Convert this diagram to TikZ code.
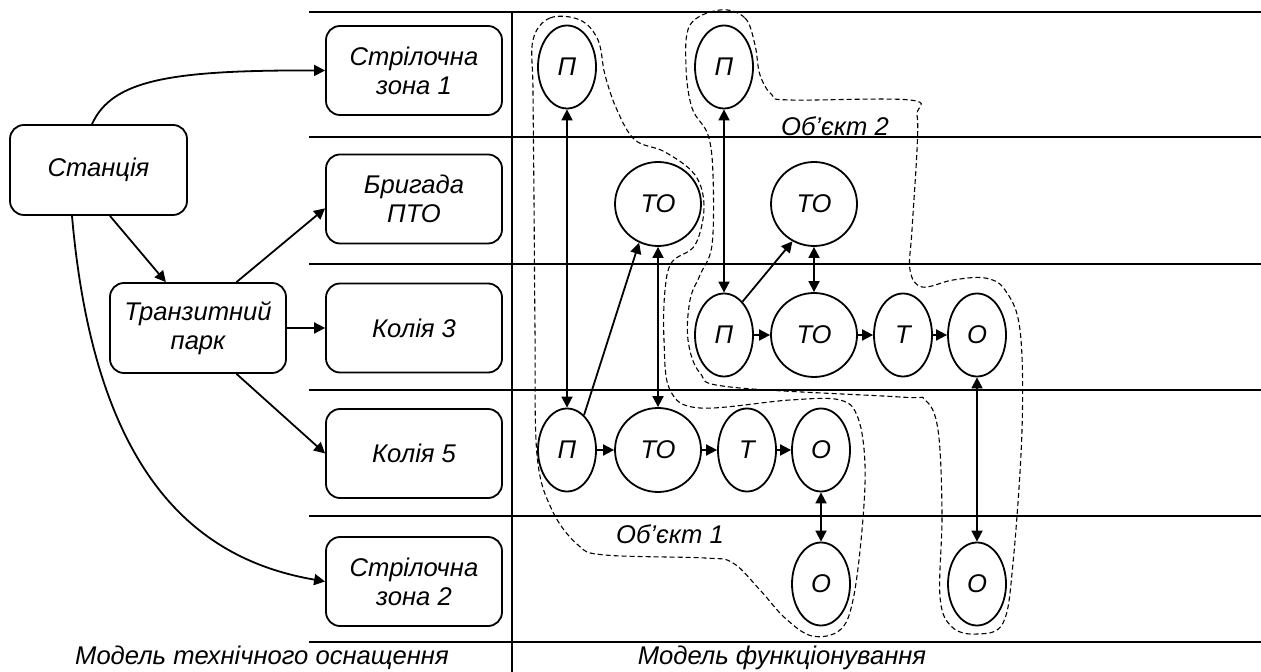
\documentclass[tikz,border=0pt]{standalone}
\usepackage{fontspec}
\setmainfont{Liberation Sans}
\usetikzlibrary{shapes.geometric,arrows.meta}

\tikzset{
  unit/.style={draw,rounded corners=7pt,minimum width=88pt,minimum height=44.5pt,align=center,line width=0.9pt},
  state/.style={draw,ellipse,minimum width=29pt,minimum height=41.5pt,inner sep=0pt,line width=0.9pt},
  wide/.style={state,minimum width=43pt,minimum height=42pt},
  link/.style={-{Triangle[length=5.5pt,width=5.5pt]},line width=0.9pt},
  both/.style={{Triangle[length=5.5pt,width=5.5pt]}-{Triangle[length=5.5pt,width=5.5pt]},line width=0.9pt},
  zone/.style={dash pattern=on 2.5pt off 1.5pt,line width=0.55pt},
}

\begin{document}
\begin{tikzpicture}[x=0.5pt,y=-0.5pt,every node/.style={font=\itshape\fontsize{12.8}{14.5}\selectfont}]
\useasboundingbox (0,0) rectangle (1261,672);
% grid
\foreach \y in {12,137,264,390,516}
  \draw [line width=1.1pt] (309,\y) -- (1261,\y);
\draw [line width=0.6pt] (309,642) -- (1261,642);
\draw [line width=1.1pt] (512,12) -- (512,672);
% technical model
\node [unit,minimum width=88.5pt,minimum height=45pt] (st) at (98.5,170) {Станція};
\node [unit,minimum height=45pt] (tp) at (198,328) {Транзитний\\парк};
\node [unit] (sz1) at (414,70.5) {Стрілочна\\зона 1};
\node [unit] (br) at (414,199) {Бригада\\ПТО};
\node [unit] (k3) at (414,328) {Колія 3};
\node [unit] (k5) at (414,453.5) {Колія 5};
\node [unit] (sz2) at (414,581.5) {Стрілочна\\зона 2};
\draw [link] (st.98) .. controls (112,80) and (170,70) .. (sz1.west);
\draw [link] (st.240) .. controls (95,480) and (200,560) .. (sz2.west);
\draw [link] (st.284) -- (tp.125);
\draw [link] (tp.50) -- (br.186);
\draw [link] (tp.east) -- (k3.west);
\draw [link] (tp.310) -- (k5.west);
% functioning model
\node [state] (p1a) at (567,67) {П};
\node [state] (p1b) at (724,67) {П};
\node [wide] (to2a) at (658,204) {ТО};
\node [wide] (to2b) at (814,204) {ТО};
\node [state] (p3) at (724,335) {П};
\node [wide] (to3) at (814,335) {ТО};
\node [state] (t3) at (903,335) {Т};
\node [state] (o3) at (977,335) {О};
\node [state] (p4) at (567,450) {П};
\node [wide] (to4) at (658,450) {ТО};
\node [state] (t4) at (747,450) {Т};
\node [state] (o4) at (821,450) {О};
\node [state] (o5a) at (821,584) {О};
\node [state] (o5b) at (977,584) {О};
\draw [link] (p4) -- (to4);
\draw [link] (to4) -- (t4);
\draw [link] (t4) -- (o4);
\draw [link] (p3) -- (to3);
\draw [link] (to3) -- (t3);
\draw [link] (t3) -- (o3);
\draw [link] (p4.64) -- (to2a.244);
\draw [link] (p3.61) -- (to2b.240);
\draw [both] (p1a) -- (p4);
\draw [both] (to2a) -- (to4);
\draw [both] (o4) -- (o5a);
\draw [both] (p1b) -- (p3);
\draw [both] (to2b) -- (to3);
\draw [both] (o3) -- (o5b);
% objects
\draw [zone] plot [smooth cycle,tension=0.6] coordinates {(533,40) (550,18) (580,20) (598,40) (605,75) (617,110) (635,140) (665,152) (695,175) (704,207) (695,245) (672,262) (665,290) (664,340) (670,390) (700,408) (790,400) (840,400) (858,418) (865,465) (862,530) (853,600) (840,630) (812,636) (785,618) (760,590) (733,563) (705,558) (605,555) (578,545) (552,510) (537,455) (535,330) (534,200) (533,90)};
\draw [zone] plot [smooth cycle,tension=0.6] coordinates {(720,10) (745,18) (755,45) (760,75) (772,95) (790,100) (910,100) (917,115) (917,150) (912,230) (910,270) (922,287) (953,280) (985,278) (1005,290) (1020,330) (1022,430) (1013,563) (1003,623) (977,634) (952,627) (940,597) (942,513) (938,430) (925,400) (900,397) (730,387) (700,373) (688,340) (690,300) (700,275) (712,245) (713,175) (708,135) (692,108) (686,67) (690,25)};
\node (ob2) at (835,126) {Об’єкт 2};
\node (ob1) at (670,534) {Об’єкт 1};
% captions
\node (cap1) at (262,658) {Модель технічного оснащення};
\node (cap2) at (782,658) {Модель функціонування};
\end{tikzpicture}
\end{document}
